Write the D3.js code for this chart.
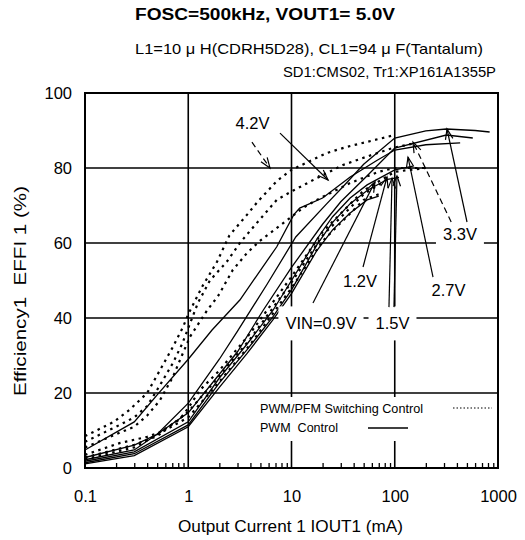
<!DOCTYPE html>
<html><head><meta charset="utf-8">
<script src="https://cdn.jsdelivr.net/npm/d3@7"></script>
<style>body{margin:0;background:#fff} text{font-family:Arial,'Liberation Sans',sans-serif;fill:#000}</style>
</head><body><svg id="c" width="525" height="540"></svg>
<script>
// ---------- data ----------
const xTicks = [0.1, 1, 10, 100, 1000];
const xTickLabels = ["0.1", "1", "10", "100", "1000"];
const yTicks = [0, 20, 40, 60, 80, 100];
const xGrid = [1, 10, 100];
const yGrid = [20, 40, 60, 80];
const titleText = "FOSC=500kHz, VOUT1= 5.0V";
const subText1 = "L1=10 \u03bc H(CDRH5D28), CL1=94 \u03bc F(Tantalum)";
const subText2 = "SD1:CMS02, Tr1:XP161A1355P";
const xTitle = "Output Current 1 IOUT1 (mA)";
const yTitle = "Efficiency1  EFFI 1 (%)";
const legendLabels = ["PWM/PFM Switching Control", "PWM  Control"];

// PWM control (solid) : [IOUT mA, efficiency %]
const pwm42 = [[0.1,4.8],[0.3,12.3],[0.5,19.5],[1,29],[1.7,36.8],[3.16,44.8],[7.2,59],[10.5,67.5],[12,69.3],[20,72],[37,77.6],[67,82],[100,84.8],[200,86.2],[430,86.7]];
const pwm33 = [[0.1,2.8],[0.3,6.1],[0.5,9],[1,17.3],[2,29],[3,36.5],[5.8,49],[11,61.6],[22,70.5],[31.5,75],[50,81],[100,88],[200,89.9],[316,90.4],[600,90],[830,89.6]];
const pwm27 = [[0.1,2.2],[0.3,4.8],[1,14.7],[2,25],[3,31],[5.3,42],[10,53.5],[20,65],[30,71],[50,77],[100,85.3],[316,88.8],[570,88]];
const pwm15 = [[0.1,1.8],[0.3,4.3],[1,12.3],[2,24],[3.7,33],[6.6,42],[10,50],[17.6,61],[25,67],[37,72],[54,75.5],[100,79.5],[150,80.5]];
const pwm12 = [[0.1,1.4],[0.3,3.8],[1,11.5],[2,22.7],[3.7,31.5],[6.6,40.3],[10,47.5],[17.6,59.5],[25,65.5],[37,70.5],[54,74],[85,77],[110,77.5]];
const pwm09 = [[0.1,1.1],[0.3,3.3],[1,11],[2,21.5],[3.7,30.5],[6.6,39.5],[10,46.5],[17.6,58],[25,63.5],[37,68],[54,71.5],[70,72.5]];

// PWM/PFM switching control (dotted)
const pfm42 = [[0.1,8.5],[0.19,12.3],[0.27,15.5],[0.4,20],[0.53,26],[0.71,32.3],[0.89,37.6],[1,41],[1.36,48.3],[1.9,55],[2.5,62],[3.7,67.5],[4.7,71],[7.2,76.5],[10,79.5],[22,84],[34,85.6],[100,88.8]];
const pfm33 = [[0.1,7],[0.2,11],[0.3,13.5],[0.4,16.5],[0.53,22],[0.71,28],[0.87,33],[1.24,44],[1.62,50],[2.36,55],[3.16,60],[4.44,64.8],[7.2,71.5],[10.4,74],[17.6,77.3],[31.5,80.8],[60,83.5],[100,85.5],[150,86.5]];
const pfm27 = [[0.1,5.5],[0.2,9],[0.3,11],[0.4,14],[0.53,18],[0.71,24.3],[0.89,30.7],[1.04,35],[1.52,42],[1.96,46],[2.7,52.8],[3.7,57.3],[4.9,60.5],[9,66],[12.8,69.3],[17.6,71.5],[37,76],[70,79],[100,80],[205,80]];
const pfm15 = [[0.1,3.5],[0.22,6.7],[0.4,8.3],[0.53,9.5],[0.83,13],[1,16],[1.3,20.8],[2,26],[4,36],[10,51],[20,63],[50,74],[100,79],[200,80]];
const pfm12 = [[0.1,2.8],[0.3,6.2],[0.5,8.5],[1,15],[2,24.5],[4,34.5],[10,49.5],[20,62],[50,73],[85,77]];
const pfm09 = [[0.1,2.3],[0.3,5.5],[1,13.5],[2,23],[4,33],[10,48],[20,60.5],[50,71.5],[70,73]];

// annotation labels [text, IOUT, eff] and arrows [tailI, tailE, tipI, tipE, dashed]
const annLabels = [["4.2V",4.19,92,false],["3.3V",428,62.4,true],["2.7V",332,47.5,false],["1.2V",46,49.7,false],["VIN=0.9V",19.3,38.5,true],["1.5V",95.1,38.5,true]];
const annArrows = [[4.14,86.9,6.19,80,true],[7.74,89.3,22.6,76.8,false],[501,65.6,320.6,90.4,false],[352,65.6,150.2,86.9,true],[234.7,50.9,134.4,82.9,false],[49.3,53.6,84.1,77.6,false],[16.15,44,64.4,76.3,false],[87.9,42.9,94.1,77.3,false],[98.3,42.9,105.1,77.9,false]];

// ---------- drawing ----------
const svg = d3.select("#c");
const M = {l:85, r:498, t:93, b:468};
const x = d3.scaleLog().domain([0.1,1000]).range([M.l,M.r]);
const y = d3.scaleLinear().domain([0,100]).range([M.b,M.t]);
svg.append("rect").attr("width",525).attr("height",540).attr("fill","#fff");

// grid
const grid = svg.append("g").attr("stroke","#000").attr("stroke-width",1.6);
xGrid.forEach(v => grid.append("line").attr("x1",x(v)).attr("x2",x(v)).attr("y1",y(0)).attr("y2",y(100)));
yGrid.forEach(v => grid.append("line").attr("x1",x(0.1)).attr("x2",x(1000)).attr("y1",y(v)).attr("y2",y(v)));

// minor ticks
const minor = [];
[0.1,1,10,100].forEach(d => { for (let k=2;k<10;k++) minor.push(d*k); });
const minorAx = svg.append("g").attr("transform",`translate(0,${M.b})`)
  .call(d3.axisBottom(x).tickValues(minor).tickSize(-5).tickFormat(""));
minorAx.select(".domain").remove();
minorAx.selectAll("line").attr("stroke","#000").attr("stroke-width",1.3);

// tick labels
const xAx = svg.append("g").attr("transform",`translate(0,${M.b})`)
  .call(d3.axisBottom(x).tickValues(xTicks).tickSize(0).tickPadding(22).tickFormat((d,i)=>xTickLabels[i]));
xAx.select(".domain").remove();
xAx.selectAll("text").style("font-size","16.5px").attr("font-family",null);
const yAx = svg.append("g").attr("transform",`translate(${M.l},0)`)
  .call(d3.axisLeft(y).tickValues(yTicks).tickSize(0).tickPadding(13));
yAx.select(".domain").remove();
yAx.selectAll("text").style("font-size","16.5px").attr("font-family",null);

// curves
const line = d3.line().x(d=>x(d[0])).y(d=>y(d[1]));
const curves = svg.append("g").attr("fill","none").attr("stroke","#000");
[pwm42,pwm33,pwm27,pwm15,pwm12,pwm09].forEach(s =>
  curves.append("path").attr("d",line(s)).attr("stroke-width",1.3));
[pfm42,pfm33,pfm27,pfm15,pfm12,pfm09].forEach(s =>
  curves.append("path").attr("d",line(s)).attr("stroke-width",2.2).attr("stroke-dasharray","2.5,4.5"));

// frame
svg.append("rect").attr("x",M.l).attr("y",M.t).attr("width",M.r-M.l).attr("height",M.b-M.t)
  .attr("fill","none").attr("stroke","#000").attr("stroke-width",2);

// legend
const lg = svg.append("g");
lg.append("rect").attr("x",255).attr("y",397).attr("width",241).attr("height",44).attr("fill","#fff");
lg.append("text").attr("x",260).attr("y",413).style("font-size","13.5px").attr("textLength",163).attr("lengthAdjust","spacingAndGlyphs").text(legendLabels[0]);
lg.append("text").attr("x",260).attr("y",432).style("font-size","13.5px").style("white-space","pre").attr("textLength",78).attr("lengthAdjust","spacingAndGlyphs").text(legendLabels[1]);
lg.append("line").attr("x1",453).attr("x2",492).attr("y1",408).attr("y2",408).attr("stroke","#000").attr("stroke-width",1.2).attr("stroke-dasharray","1.5,2");
lg.append("line").attr("x1",368).attr("x2",408).attr("y1",428).attr("y2",428).attr("stroke","#000").attr("stroke-width",1.3);

// annotation labels with white boxes
const ann = svg.append("g");
annLabels.forEach(([t,I,E,box]) => {
  const txt = ann.append("text").attr("x",x(I)).attr("y",y(E)).attr("dy","0.35em")
    .attr("text-anchor","middle").style("font-size","16.5px").text(t);
  if (box) {
    const b = txt.node().getBBox();
    ann.insert("rect","text").attr("x",b.x-7).attr("y",b.y-8).attr("width",b.width+14).attr("height",b.height+16).attr("fill","#fff");
  }
});

// arrows
const arr = svg.append("g").attr("stroke","#000").attr("stroke-width",1.2).attr("fill","none");
annArrows.forEach(([tI,tE,hI,hE,dashed]) => {
  const x0=x(tI), y0=y(tE), x1=x(hI), y1=y(hE);
  const l = arr.append("line").attr("x1",x0).attr("y1",y0).attr("x2",x1).attr("y2",y1);
  if (dashed) l.attr("stroke-dasharray","6,4");
  const a = Math.atan2(y0-y1, x0-x1), L = 11, sp = 0.35;
  arr.append("path").attr("d",`M${x1+L*Math.cos(a-sp)},${y1+L*Math.sin(a-sp)}L${x1},${y1}L${x1+L*Math.cos(a+sp)},${y1+L*Math.sin(a+sp)}`);
});

// titles
svg.append("text").attr("x",135).attr("y",20).style("font-size","16px").style("font-weight","bold")
  .attr("textLength",260).attr("lengthAdjust","spacingAndGlyphs").text(titleText);
svg.append("text").attr("x",135).attr("y",54).style("font-size","15px")
  .attr("textLength",348).attr("lengthAdjust","spacingAndGlyphs").text(subText1);
svg.append("text").attr("x",283).attr("y",77).style("font-size","15px")
  .attr("textLength",213).attr("lengthAdjust","spacingAndGlyphs").text(subText2);
svg.append("text").attr("x",178).attr("y",532).style("font-size","16px")
  .attr("textLength",225).attr("lengthAdjust","spacingAndGlyphs").text(xTitle);
svg.append("text").attr("transform","translate(26,396) rotate(-90)").style("font-size","16px").style("white-space","pre")
  .attr("textLength",210).attr("lengthAdjust","spacingAndGlyphs").text(yTitle);
</script></body></html>
